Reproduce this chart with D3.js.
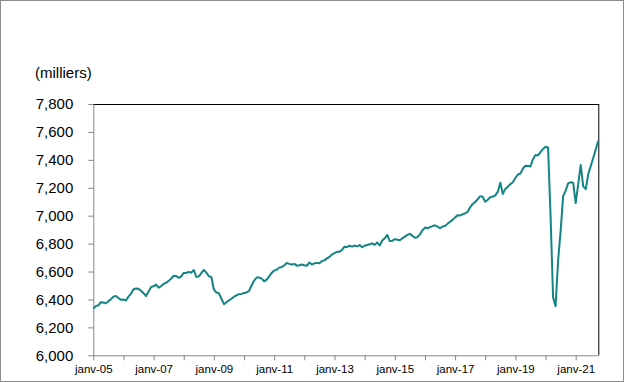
<!DOCTYPE html>
<html>
<head>
<meta charset="utf-8">
<script src="https://cdn.jsdelivr.net/npm/d3@7/dist/d3.min.js"></script>
<style>
  html, body { margin: 0; padding: 0; background: #fff; }
  svg { display: block; font-family: "Liberation Sans", Arial, sans-serif; }
</style>
</head>
<body>
<div id="chart"></div>
<script>
// ---- Data (thousands), monthly Jan 2005 .. Oct 2021 ----
const monthNames = ["janv","févr","mars","avr","mai","juin","juil","août","sept","oct","nov","déc"];
const years = ["05","06","07","08","09","10","11","12","13","14","15","16","17","18","19","20","21"];

const v2005 = [6335, 6352, 6358, 6380, 6378, 6372, 6388, 6402, 6420, 6425, 6410, 6398];
const v2006 = [6400, 6392, 6420, 6442, 6473, 6478, 6476, 6462, 6445, 6425, 6458, 6490];
const v2007 = [6494, 6506, 6484, 6496, 6511, 6520, 6533, 6550, 6570, 6568, 6555, 6565];
const v2008 = [6590, 6590, 6597, 6592, 6611, 6562, 6565, 6588, 6612, 6592, 6566, 6561];
const v2009 = [6470, 6450, 6444, 6405, 6366, 6380, 6394, 6405, 6420, 6430, 6438, 6440];
const v2010 = [6446, 6450, 6462, 6500, 6535, 6557, 6558, 6549, 6530, 6542, 6566, 6590];
const v2011 = [6608, 6612, 6628, 6632, 6645, 6661, 6655, 6650, 6655, 6642, 6645, 6650];
const v2012 = [6645, 6641, 6665, 6650, 6659, 6662, 6660, 6676, 6680, 6694, 6705, 6722];
const v2013 = [6732, 6741, 6742, 6755, 6778, 6775, 6785, 6778, 6786, 6780, 6790, 6774];
const v2014 = [6785, 6790, 6795, 6802, 6791, 6808, 6787, 6822, 6838, 6862, 6818, 6820];
const v2015 = [6832, 6828, 6824, 6838, 6850, 6862, 6870, 6856, 6842, 6846, 6866, 6895];
const v2016 = [6915, 6910, 6918, 6925, 6931, 6922, 6910, 6922, 6926, 6942, 6956, 6970];
const v2017 = [6988, 7003, 7002, 7010, 7017, 7028, 7060, 7084, 7098, 7118, 7140, 7136];
const v2018 = [7100, 7114, 7133, 7136, 7146, 7172, 7236, 7156, 7192, 7208, 7226, 7240];
const v2019 = [7270, 7295, 7302, 7338, 7358, 7356, 7352, 7405, 7435, 7432, 7455, 7478];
const v2020 = [7494, 7488, 7000, 6415, 6352, 6680, 6888, 7140, 7180, 7232, 7240, 7236];
const v2021 = [7090, 7226, 7363, 7210, 7190, 7298, 7356, 7415, 7476, 7537];

const employment = [].concat(v2005, v2006, v2007, v2008, v2009, v2010, v2011, v2012,
  v2013, v2014, v2015, v2016, v2017, v2018, v2019, v2020, v2021);

const yTicks = [6000, 6200, 6400, 6600, 6800, 7000, 7200, 7400, 7600, 7800];
const unitLabel = "(milliers)";

// categories: "janv-05", "févr-05", ...
const months = employment.map((_, i) => monthNames[i % 12] + "-" + years[Math.floor(i / 12)]);
const data = months.map((m, i) => ({ month: m, value: employment[i] }));

// ---- Layout ----
const W = 624, H = 382;
const plotL = 93.3, plotR = 598.3, plotT = 104, plotB = 355.3;
const lineColor = "#138582";

const svg = d3.select("#chart").append("svg").attr("width", W).attr("height", H);

// outer frame
svg.append("rect").attr("x", 0.5).attr("y", 0.5).attr("width", W - 1).attr("height", H - 1)
  .attr("fill", "#fff").attr("stroke", "#8c8c8c").attr("stroke-width", 1);

const x = d3.scalePoint().domain(months).range([plotL, plotR]);
const y = d3.scaleLinear().domain([6000, 7800]).range([plotB, plotT]);

// plot-area top and right border (black)
svg.append("line").attr("x1", plotL).attr("x2", plotR + 0.5).attr("y1", plotT + 0.5).attr("y2", plotT + 0.5)
  .attr("stroke", "#000").attr("stroke-width", 1);
svg.append("line").attr("x1", plotR + 0.5).attr("x2", plotR + 0.5).attr("y1", plotT).attr("y2", plotB)
  .attr("stroke", "#000").attr("stroke-width", 1);

// y axis
const yAxis = d3.axisLeft(y).tickValues(yTicks).tickFormat(d3.format(",")).tickSize(5).tickSizeOuter(0).tickPadding(15);
const gy = svg.append("g").attr("transform", `translate(${plotL},0)`).call(yAxis);
gy.select(".domain").attr("stroke", "#868686");
gy.selectAll(".tick line").attr("stroke", "#868686");
gy.selectAll(".tick text").attr("fill", "#000").style("font-size", "15px")
  .style("font-family", "'Liberation Sans', Arial, sans-serif");

// x axis
const janTicks = months.filter((m, i) => i % 12 === 0);
const xAxis = d3.axisBottom(x).tickValues(janTicks)
  .tickFormat((d, i) => (i % 2 === 0 ? d : "")).tickSize(5).tickSizeOuter(0).tickPadding(5);
const gx = svg.append("g").attr("transform", `translate(0,${plotB})`).call(xAxis);
gx.select(".domain").attr("stroke", "#868686").attr("d", `M${plotL},0.5H${plotR}`);
gx.selectAll(".tick line").attr("stroke", "#868686");
gx.selectAll(".tick text").attr("fill", "#000").style("font-size", "11.5px")
  .style("font-family", "'Liberation Sans', Arial, sans-serif");

// unit label
svg.append("text").attr("x", 35).attr("y", 78).text(unitLabel)
  .style("font-size", "15px").attr("fill", "#000");

// line
const line = d3.line().x(d => x(d.month)).y(d => y(d.value));
svg.append("path").datum(data).attr("d", line).attr("fill", "none")
  .attr("stroke", lineColor).attr("stroke-width", 2).attr("stroke-linejoin", "round");
</script>
</body>
</html>
